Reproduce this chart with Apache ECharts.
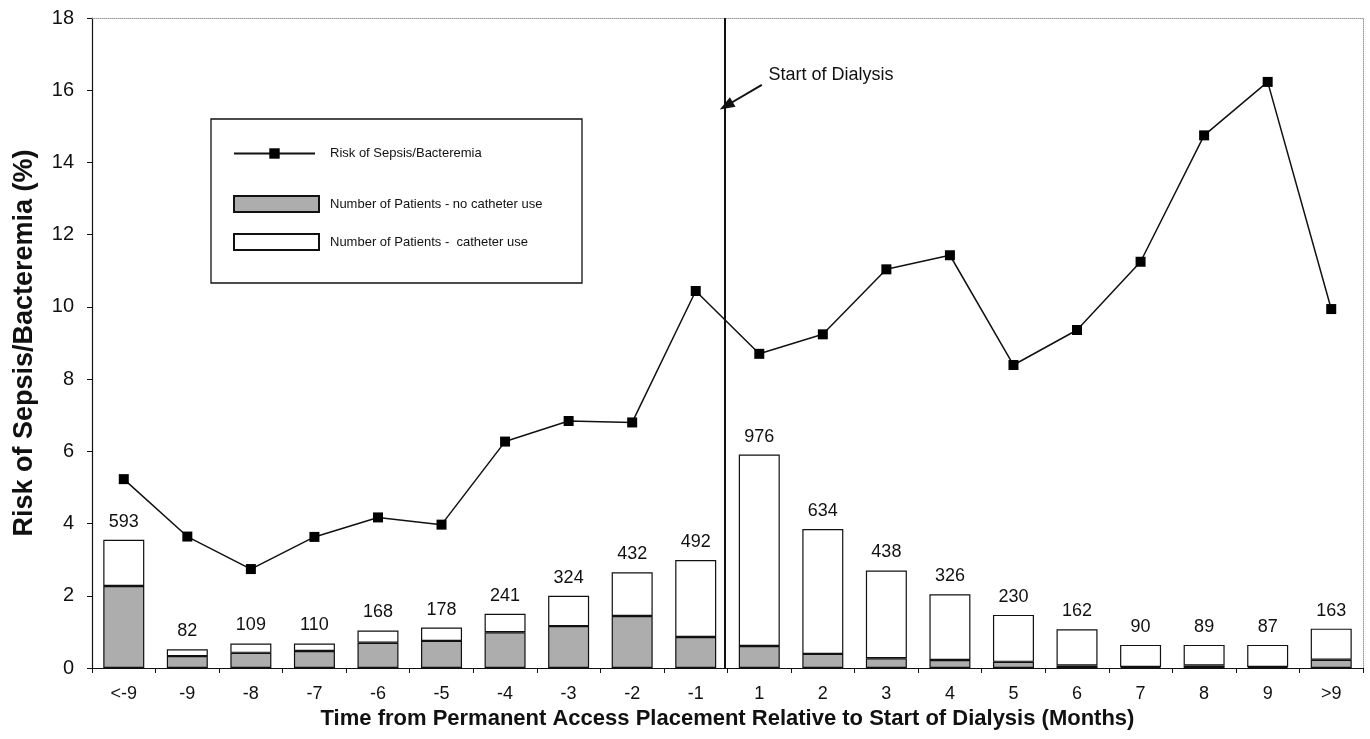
<!DOCTYPE html>
<html>
<head>
<meta charset="utf-8">
<script src="https://cdn.jsdelivr.net/npm/echarts@6/dist/echarts.min.js"></script>
<style>
html,body{margin:0;padding:0;background:#fff;}
#chart{width:1370px;height:739px;}
</style>
</head>
<body>
<div id="chart"></div>
<script>
// ---- data ----
const categories = ['<-9','-9','-8','-7','-6','-5','-4','-3','-2','-1','1','2','3','4','5','6','7','8','9','>9'];
const riskPct = [5.23,3.64,2.74,3.63,4.17,3.97,6.27,6.84,6.80,10.44,8.70,9.24,11.04,11.43,8.39,9.36,11.25,14.75,16.23,9.94];
const patientsTotal = [593,82,109,110,168,178,241,324,432,492,976,634,438,326,230,162,90,89,87,163];
// bar segment heights as drawn (in the left-axis units)
const barNoCatheter = [2.27,0.33,0.42,0.47,0.70,0.75,0.99,1.16,1.44,0.86,0.61,0.39,0.27,0.22,0.17,0.07,0.03,0.07,0.03,0.23];
const barCatheter  = [1.28,0.19,0.26,0.21,0.34,0.37,0.51,0.84,1.21,2.13,5.30,3.46,2.43,1.82,1.30,1.00,0.61,0.57,0.61,0.86];
const yTicks = {min:0, max:18, interval:2};
const dialysisStart = 9.95;        // just at the boundary between "-1" and "1" (category index)
const arrowTail = [10.54, 16.15];
const arrowHead = [9.98, 15.57];
const annotationPos = [11.63, 16.43];

const sans = 'Liberation Sans, Arial, sans-serif';
const narrow = 'Liberation Sans Narrow, Liberation Sans, Arial, sans-serif';

const chart = echarts.init(document.getElementById('chart'), null, {renderer:'canvas'});
chart.setOption({
  animation:false,
  backgroundColor:'#fff',
  grid:{left:92, right:7, top:18, bottom:71, containLabel:false},
  graphic:[{
    type:'rect', z:1, silent:true,
    shape:{x:211, y:119, width:371, height:164},
    style:{fill:'#fff', stroke:'#111', lineWidth:1.3}
  }],
  legend:[
    {
      data:['Risk of Sepsis/Bacteremia'],
      left:233, top:147, padding:0, orient:'vertical',
      itemWidth:81, itemHeight:13, z:5,
      textStyle:{fontFamily:narrow, fontSize:13, color:'#111', padding:[0,0,0,10]}
    },
    {
      data:[
        {name:'Number of Patients - no catheter use', icon:'rect'},
        {name:'Number of Patients -  catheter use', icon:'rect'}
      ],
      left:233, top:195, padding:0, orient:'vertical',
      itemWidth:85, itemHeight:16, itemGap:20, z:5,
      textStyle:{fontFamily:narrow, fontSize:13, color:'#111', padding:[0,0,0,6]}
    }
  ],
  xAxis:[
    {
      type:'category', data:categories, position:'bottom',
      axisLine:{lineStyle:{color:'#111', width:1.2}},
      axisTick:{show:true, length:5, interval:0, lineStyle:{color:'#111'}},
      axisLabel:{fontFamily:sans, fontSize:18, color:'#111', margin:17, interval:0},
      name:'Time from Permanent Access Placement Relative to Start of Dialysis (Months)',
      nameLocation:'middle', nameGap:40,
      nameTextStyle:{fontFamily:sans, fontSize:22, fontWeight:'bold', color:'#111'}
    },
    {
      type:'value', min:0, max:categories.length, position:'top',
      axisLine:{show:true, onZero:false, lineStyle:{color:'#999', type:'dotted', width:1}},
      axisTick:{show:false}, axisLabel:{show:false}, splitLine:{show:false}
    }
  ],
  yAxis:[
    {
      type:'value', min:yTicks.min, max:yTicks.max, interval:yTicks.interval,
      axisLine:{show:true, lineStyle:{color:'#111', width:1.2}},
      axisTick:{show:true, length:5, lineStyle:{color:'#111'}},
      axisLabel:{fontFamily:sans, fontSize:20, color:'#111', margin:18},
      splitLine:{show:false},
      name:'Risk of Sepsis/Bacteremia (%)', nameLocation:'middle', nameGap:54,
      nameTextStyle:{fontFamily:sans, fontSize:27, fontWeight:'bold', color:'#111'}
    },
    {
      type:'value', min:yTicks.min, max:yTicks.max, position:'right',
      axisLine:{show:true, lineStyle:{color:'#999', type:'dotted', width:1}},
      axisTick:{show:false}, axisLabel:{show:false}, splitLine:{show:false}
    }
  ],
  series:[
    {
      name:'Number of Patients - no catheter use', type:'bar', stack:'patients',
      data:barNoCatheter, barWidth:41, z:2,
      itemStyle:{color:'#adadad', borderColor:'#111', borderWidth:1.2}
    },
    {
      name:'Number of Patients -  catheter use', type:'bar', stack:'patients',
      data:barCatheter, barWidth:41, z:2,
      itemStyle:{color:'#fff', borderColor:'#111', borderWidth:1.2},
      label:{
        show:true, position:'top', distance:9,
        fontFamily:sans, fontSize:18, color:'#111',
        formatter:(p)=>String(patientsTotal[p.dataIndex])
      }
    },
    {
      name:'Risk of Sepsis/Bacteremia', type:'line', data:riskPct, z:4,
      symbol:'rect', symbolSize:10, showSymbol:true,
      lineStyle:{color:'#111', width:1.5},
      itemStyle:{color:'#000'}
    },
    {
      name:'dialysis', type:'line', xAxisIndex:1, yAxisIndex:0, data:[], z:3,
      markLine:{
        silent:true, animation:false,
        data:[
          [{coord:[dialysisStart, yTicks.max], symbol:'none'},{coord:[dialysisStart, yTicks.min], symbol:'none'}],
          [{coord:arrowTail, symbol:'none'},{coord:arrowHead, symbol:'triangle', symbolSize:[11,15]}]
        ],
        label:{show:false},
        lineStyle:{color:'#111', type:'solid', width:2}
      },
      markPoint:{
        silent:true, symbol:'circle', symbolSize:0,
        data:[{coord:annotationPos, value:'Start of Dialysis'}],
        label:{show:true, position:'inside', formatter:'Start of Dialysis',
               fontFamily:narrow, fontSize:18, color:'#111'}
      }
    }
  ]
});
</script>
</body>
</html>
